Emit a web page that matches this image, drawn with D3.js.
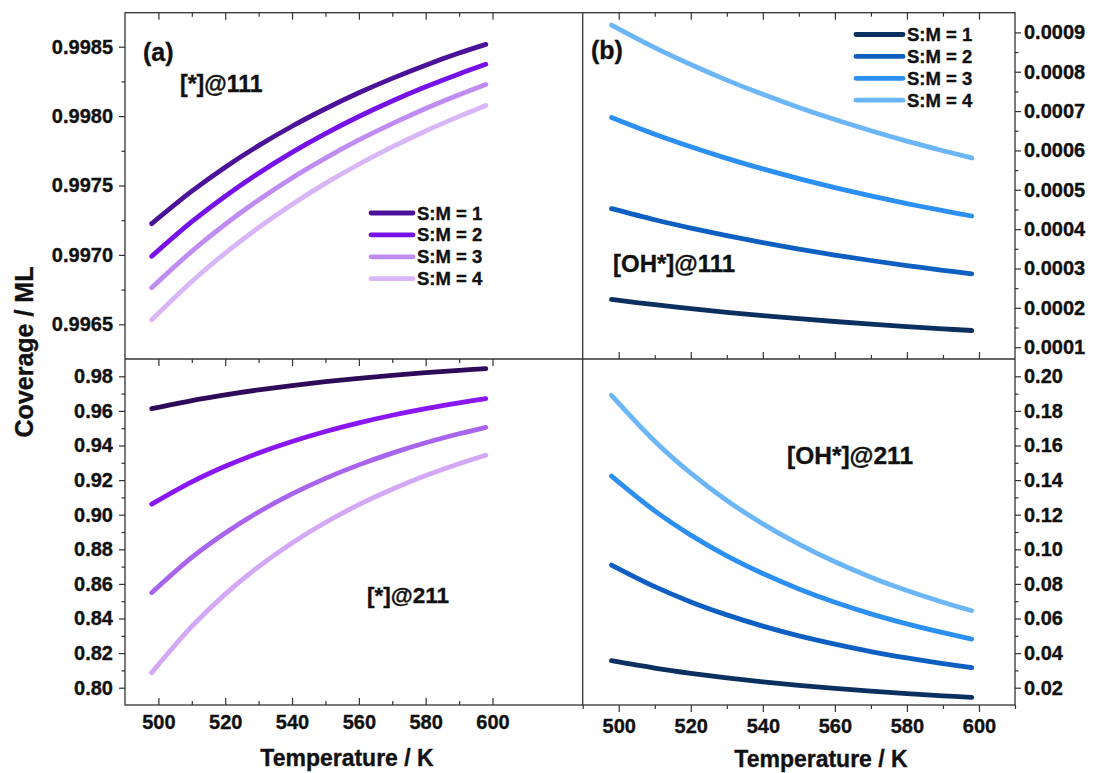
<!DOCTYPE html>
<html>
<head>
<meta charset="utf-8">
<script src="https://cdn.jsdelivr.net/npm/d3@7"></script>
<style>
  body { margin: 0; background: #fff; }
  svg text { font-family: "Liberation Sans", Arial, Helvetica, sans-serif; font-weight: bold; fill: #111; stroke: #111; stroke-width: 0.35px; }
</style>
</head>
<body>
<div id="chart"></div>
<script>
/* Coverage vs temperature, four panels: [*] and [OH*] on 111 / 211 sites */

var TEMPS = [498, 510, 520, 530, 540, 550, 560, 570, 580, 590, 598];
var SERIES_NAMES = ['S:M = 1', 'S:M = 2', 'S:M = 3', 'S:M = 4'];

var STAR_111 = [
  [0.997225, 0.997459, 0.997632, 0.997787, 0.997927, 0.998053, 0.998168, 0.998272, 0.998367, 0.998454, 0.998517],
  [0.996990, 0.997239, 0.997423, 0.997589, 0.997739, 0.997874, 0.997997, 0.998109, 0.998211, 0.998304, 0.998373],
  [0.996764, 0.997026, 0.997221, 0.997396, 0.997554, 0.997697, 0.997828, 0.997946, 0.998055, 0.998154, 0.998228],
  [0.996533, 0.996809, 0.997013, 0.997197, 0.997364, 0.997515, 0.997653, 0.997778, 0.997893, 0.997998, 0.998077]
];
var STAR_211 = [
  [0.96130, 0.96595, 0.96926, 0.97214, 0.97466, 0.97687, 0.97882, 0.98055, 0.98208, 0.98344, 0.98443],
  [0.90610, 0.91897, 0.92797, 0.93569, 0.94233, 0.94809, 0.95310, 0.95747, 0.96130, 0.96467, 0.96710],
  [0.85490, 0.87530, 0.88940, 0.90158, 0.91200, 0.92100, 0.92880, 0.93560, 0.94155, 0.94677, 0.95050],
  [0.80870, 0.83540, 0.85410, 0.87000, 0.88370, 0.89550, 0.90580, 0.91470, 0.92260, 0.92950, 0.93440]
];
var OH_111 = [
  [0.0002213, 0.0002080, 0.0001980, 0.0001887, 0.0001803, 0.0001725, 0.0001653, 0.0001586, 0.0001524, 0.0001467, 0.0001424],
  [0.0004520, 0.0004239, 0.0004028, 0.0003834, 0.0003657, 0.0003493, 0.0003342, 0.0003203, 0.0003074, 0.0002954, 0.0002866],
  [0.0006837, 0.0006412, 0.0006093, 0.0005799, 0.0005531, 0.0005283, 0.0005055, 0.0004845, 0.0004650, 0.0004469, 0.0004334],
  [0.0009187, 0.0008614, 0.0008183, 0.0007787, 0.0007425, 0.0007091, 0.0006784, 0.0006501, 0.0006237, 0.0005993, 0.0005810]
];
var OH_211 = [
  [0.03560, 0.03135, 0.02832, 0.02568, 0.02338, 0.02135, 0.01956, 0.01797, 0.01656, 0.01531, 0.01440],
  [0.09090, 0.07840, 0.06960, 0.06210, 0.05560, 0.05000, 0.04520, 0.04090, 0.03720, 0.03390, 0.03160],
  [0.14230, 0.12220, 0.10820, 0.09620, 0.08600, 0.07710, 0.06940, 0.06270, 0.05690, 0.05180, 0.04810],
  [0.18900, 0.16250, 0.14400, 0.12820, 0.11470, 0.10300, 0.09280, 0.08390, 0.07620, 0.06940, 0.06450]
];

var X_TICKS = [500, 520, 540, 560, 580, 600];
var X_MINOR = [510, 530, 550, 570, 590];
var Y_TICKS_STAR111 = [0.9965, 0.9970, 0.9975, 0.9980, 0.9985];
var Y_TICKS_STAR211 = [0.80, 0.82, 0.84, 0.86, 0.88, 0.90, 0.92, 0.94, 0.96, 0.98];
var Y_TICKS_OH111 = [0.0001, 0.0002, 0.0003, 0.0004, 0.0005, 0.0006, 0.0007, 0.0008, 0.0009];
var Y_TICKS_OH211 = [0.02, 0.04, 0.06, 0.08, 0.10, 0.12, 0.14, 0.16, 0.18, 0.20];

var COLORS_STAR111 = ['#4b1199', '#7611ea', '#bf8cf4', '#d8b6f8'];
var COLORS_STAR211 = ['#2e0b58', '#8a16f4', '#a964ee', '#d3a8f6'];
var COLORS_OH      = ['#0b2f5e', '#0d5fc2', '#2c8ff2', '#6cb6f7'];

var FRAME_COLOR = '#333';
var LINE_WIDTH  = 4.8;
var TICK_FONT   = 20;

var W = 1107, H = 773;
var X_LEFT = 125, X_MID = 582.7, X_RIGHT = 1015;
var Y_TOP = 12.7, Y_MID = 359, Y_BOT = 705;

var svg = d3.select('#chart').append('svg')
  .attr('width', W).attr('height', H)
  .attr('viewBox', '0 0 ' + W + ' ' + H);

var xLeft  = d3.scaleLinear().domain([490, 627]).range([X_LEFT, X_MID]);
var xRight = d3.scaleLinear().domain([490, 610]).range([X_MID, X_RIGHT]);

var yStar111 = d3.scaleLinear().domain([0.99625, 0.998745]).range([Y_MID, Y_TOP]);
var yStar211 = d3.scaleLinear().domain([0.79, 0.99]).range([Y_BOT, Y_MID]);
var yOH111   = d3.scaleLinear().domain([0.00007, 0.00095]).range([Y_MID, Y_TOP]);
var yOH211   = d3.scaleLinear().domain([0.01, 0.21]).range([Y_BOT, Y_MID]);

function midpoints(ticks) {
  var out = [];
  for (var i = 0; i < ticks.length - 1; i++) out.push((ticks[i] + ticks[i + 1]) / 2);
  return out;
}

function styleAxis(sel) {
  sel.select('.domain').remove();
  sel.selectAll('.tick line').attr('stroke', FRAME_COLOR).attr('stroke-width', 1.2);
  sel.selectAll('.tick text')
    .attr('fill', '#111')
    .style('font-size', TICK_FONT + 'px')
    .style('font-family', '"Liberation Sans", Arial, sans-serif')
    .style('font-weight', 'bold');
}

// y axes: major with labels plus unlabeled minors
function drawYAxis(scale, side, ticks, fmt) {
  var x = side === 'left' ? X_LEFT : X_RIGHT;
  var make = side === 'left' ? d3.axisLeft : d3.axisRight;
  var major = svg.append('g').attr('transform', 'translate(' + x + ',0)')
    .call(make(scale).tickValues(ticks).tickFormat(d3.format(fmt)).tickSize(6).tickPadding(side === 'left' ? 6 : 3));
  styleAxis(major);
  var minor = svg.append('g').attr('transform', 'translate(' + x + ',0)')
    .call(make(scale).tickValues(midpoints(ticks)).tickFormat('').tickSize(3.5));
  styleAxis(minor);
}

// x axes: dir = +1 ticks go down, -1 ticks go up
function drawXTicks(scale, y, dir, minorExtra) {
  var g = svg.append('g').attr('transform', 'translate(0,' + y + ')');
  g.call(d3.axisBottom(scale).tickValues(X_TICKS).tickFormat('').tickSize(7 * dir));
  styleAxis(g);
  var m = svg.append('g').attr('transform', 'translate(0,' + y + ')');
  m.call(d3.axisBottom(scale).tickValues(X_MINOR.concat(minorExtra || [])).tickFormat('').tickSize(4 * dir));
  styleAxis(m);
}

function drawXLabels(scale, y, dir, padding) {
  var g = svg.append('g').attr('transform', 'translate(0,' + y + ')');
  g.call(d3.axisBottom(scale).tickValues(X_TICKS).tickFormat(d3.format('d')).tickSize(7 * dir).tickPadding(padding));
  styleAxis(g);
  g.selectAll('.tick line').remove();
}

// top-left panel
drawYAxis(yStar111, 'left', Y_TICKS_STAR111, '.4f');
drawXTicks(xLeft, Y_TOP, 1);
drawXTicks(xLeft, Y_MID, 1);
// bottom-left panel
drawYAxis(yStar211, 'left', Y_TICKS_STAR211, '.2f');
drawXTicks(xLeft, Y_BOT, -1);
drawXLabels(xLeft, Y_BOT, -1, 10);
// top-right panel
drawYAxis(yOH111, 'right', Y_TICKS_OH111, '.4f');
drawXTicks(xRight, Y_TOP, 1);
drawXTicks(xRight, Y_MID, -1);
// bottom-right panel
drawYAxis(yOH211, 'right', Y_TICKS_OH211, '.2f');
drawXTicks(xRight, Y_BOT, 1, [490, 610]);
drawXLabels(xRight, Y_BOT, 1, 7);

// frame and dividers
var frame = svg.append('g').attr('stroke', FRAME_COLOR).attr('stroke-width', 1.3).attr('fill', 'none');
frame.append('rect').attr('x', X_LEFT).attr('y', Y_TOP).attr('width', X_RIGHT - X_LEFT).attr('height', Y_BOT - Y_TOP);
frame.append('line').attr('x1', X_LEFT).attr('x2', X_RIGHT).attr('y1', Y_MID).attr('y2', Y_MID);
frame.append('line').attr('x1', X_MID).attr('x2', X_MID).attr('y1', Y_TOP).attr('y2', Y_BOT);

function drawLines(seriesList, xScale, yScale, colors) {
  var line = d3.line()
    .x(function (d, i) { return xScale(TEMPS[i]); })
    .y(function (d) { return yScale(d); })
    .curve(d3.curveCatmullRom.alpha(0.5));
  seriesList.forEach(function (vals, k) {
    svg.append('path')
      .attr('d', line(vals))
      .attr('fill', 'none')
      .attr('stroke', colors[k])
      .attr('stroke-width', LINE_WIDTH)
      .attr('stroke-linecap', 'round')
      .attr('stroke-linejoin', 'round');
  });
}

drawLines(STAR_111, xLeft, yStar111, COLORS_STAR111);
drawLines(STAR_211, xLeft, yStar211, COLORS_STAR211);
drawLines(OH_111, xRight, yOH111, COLORS_OH);
drawLines(OH_211, xRight, yOH211, COLORS_OH);

function drawLegend(x, y, colors, lineLen) {
  var g = svg.append('g').attr('transform', 'translate(' + x + ',' + y + ')');
  SERIES_NAMES.forEach(function (name, i) {
    var yy = i * 21.9;
    g.append('line')
      .attr('x1', 0).attr('x2', lineLen).attr('y1', yy).attr('y2', yy)
      .attr('stroke', colors[i]).attr('stroke-width', LINE_WIDTH).attr('stroke-linecap', 'round');
    g.append('text')
      .attr('x', lineLen + 4).attr('y', yy + 6.5)
      .style('font-size', '18.5px')
      .text(name);
  });
}

drawLegend(371, 213, COLORS_STAR111, 42);
drawLegend(856, 34.5, COLORS_OH, 47);

function label(x, y, txt, size) {
  svg.append('text').attr('x', x).attr('y', y).style('font-size', size + 'px').text(txt);
}

label(143, 61, '(a)', 25);
label(180, 92, '[*]@111', 23);
label(591, 59, '(b)', 25);
label(613, 272, '[OH*]@111', 24);
label(367, 603, '[*]@211', 22.5);
label(787, 464, '[OH*]@211', 24.5);

svg.append('text')
  .attr('transform', 'translate(33,352) rotate(-90)')
  .attr('text-anchor', 'middle')
  .style('font-size', '25px')
  .text('Coverage / ML');

svg.append('text')
  .attr('x', 347).attr('y', 766)
  .attr('text-anchor', 'middle')
  .style('font-size', '23px')
  .text('Temperature / K');

svg.append('text')
  .attr('x', 821).attr('y', 767)
  .attr('text-anchor', 'middle')
  .style('font-size', '23px')
  .text('Temperature / K');
</script>
</body>
</html>
